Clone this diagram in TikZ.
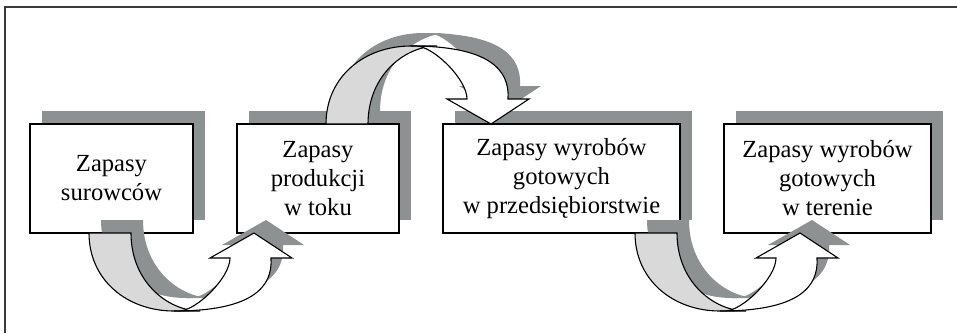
\documentclass[tikz,border=0pt]{standalone}
\usepackage{fontspec}
\setmainfont{Liberation Serif}
\usetikzlibrary{shadows}
\definecolor{shadowc}{HTML}{8E9191}
\definecolor{backc}{HTML}{D9D9D9}
\definecolor{framec}{HTML}{3A3A3A}
\tikzset{
  stockbox/.style={draw=black, line width=1.1pt, fill=white, inner sep=0pt, align=center,
    font=\fontsize{24.6}{29}\selectfont,
    drop shadow={shadow xshift=12pt, shadow yshift=13pt, fill=shadowc, opacity=1, draw=none}},
  arrowline/.style={draw=black, line width=1.1pt, line join=miter},
  shadowfill/.style={fill=shadowc}
}
\newcommand\backpart{(0,0) -- (42,0) .. controls (42,50) and (80,78) .. (111,78) -- (85,78) .. controls (38,78) and (0,47) .. (0,0) -- cycle}
\newcommand\curvedarrow[2]{%
  \begin{scope}[shift={(#1)}, shift={(12,-13)}, yscale=#2]
    \fill[shadowfill] (0,0) -- (42,0) .. controls (42,50) and (80,78) .. (111,78) -- (85,78) .. controls (38,78) and (0,47) .. (0,0) -- cycle;
    \fill[shadowfill] (90,78) .. controls (107,78) and (141,45) .. (141,25) -- (121,25) -- (165,0) -- (203,25) -- (182,25) .. controls (184,55) and (162,78) .. (85,78) -- cycle;
  \end{scope}
  \begin{scope}[shift={(#1)}, yscale=#2]
    \filldraw[arrowline, fill=backc] (0,0) -- (42,0) .. controls (42,50) and (80,78) .. (111,78) -- (85,78) .. controls (38,78) and (0,47) .. (0,0) -- cycle;
    \filldraw[arrowline, fill=white] (90,78) .. controls (107,78) and (141,45) .. (141,25) -- (121,25) -- (165,0) -- (203,25) -- (182,25) .. controls (184,55) and (162,78) .. (85,78) -- cycle;
  \end{scope}}
\begin{document}
\begin{tikzpicture}[x=1pt, y=-1pt]
  \useasboundingbox (0,0) rectangle (957,333);
  % frame
  \coordinate (fbl) at (5,333);
  \coordinate (ftl) at (5,7);
  \coordinate (ftr) at (957,7);
  \draw[framec, line width=1.4pt] (fbl) -- (ftl) -- (ftr);
  % boxes
  \node[stockbox, minimum width=163pt, minimum height=109pt] (b1) at (111.5,178.5) {Zapasy\\surowców};
  \node[stockbox, minimum width=162pt, minimum height=109pt] (b2) at (318,178.5) {Zapasy\\produkcji\\w toku};
  \node[stockbox, minimum width=237pt, minimum height=109pt] (b3) at (561.5,178.5) {Zapasy wyrobów\\gotowych\\w przedsiębiorstwie};
  \node[stockbox, minimum width=207pt, minimum height=109pt] (b4) at (827.5,178.5) {Zapasy wyrobów\\gotowych\\w terenie};
  % curved block arrows
  \coordinate (a1) at (89,233);
  \coordinate (a2) at (326,124);
  \coordinate (a3) at (635,233);
  \curvedarrow{a1}{1}
  \curvedarrow{a2}{-1}
  \curvedarrow{a3}{1}
\end{tikzpicture}
\end{document}
